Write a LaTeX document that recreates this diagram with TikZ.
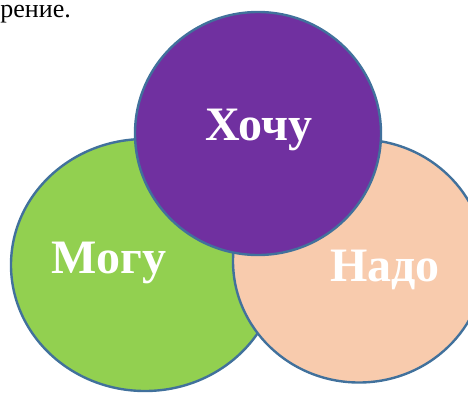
\documentclass[tikz,border=0pt]{standalone}
\usepackage{fontspec}
\setmainfont{Liberation Serif}
\usetikzlibrary{shapes.geometric}
\definecolor{cgreen}{HTML}{92D050}
\definecolor{cpeach}{HTML}{F8CBAD}
\definecolor{cpurple}{HTML}{7030A0}
\definecolor{cline}{HTML}{41719C}
\tikzset{
  blob/.style={ellipse, draw=cline, line width=2.4pt, inner sep=0pt},
  lbl/.style={anchor=base, text=white, font=\fontsize{48}{56}\selectfont\bfseries, inner sep=0pt},
  toptext/.style={anchor=base east, font=\fontsize{26}{30}\selectfont, inner sep=0pt}
}
\begin{document}
\begin{tikzpicture}[x=1pt,y=-1pt]
\useasboundingbox (0,0) rectangle (468,392);
\clip (0,0) rectangle (468,392);
\node[toptext] (top) at (71,17) {рение.};
\node[blob, fill=cgreen, minimum width=268pt, minimum height=252pt] (mogu) at (145,265) {};
\node[blob, fill=cpeach, minimum width=252pt, minimum height=243pt] (nado) at (359,261) {};
\node[blob, fill=cpurple, minimum width=246pt, minimum height=243pt] (hochu) at (258,133.5) {};
\node[lbl] (tmogu) at (109,273) {Могу};
\node[lbl] (tnado) at (385,281) {Надо};
\node[lbl] (thochu) at (259,140) {Хочу};
\end{tikzpicture}
\end{document}
